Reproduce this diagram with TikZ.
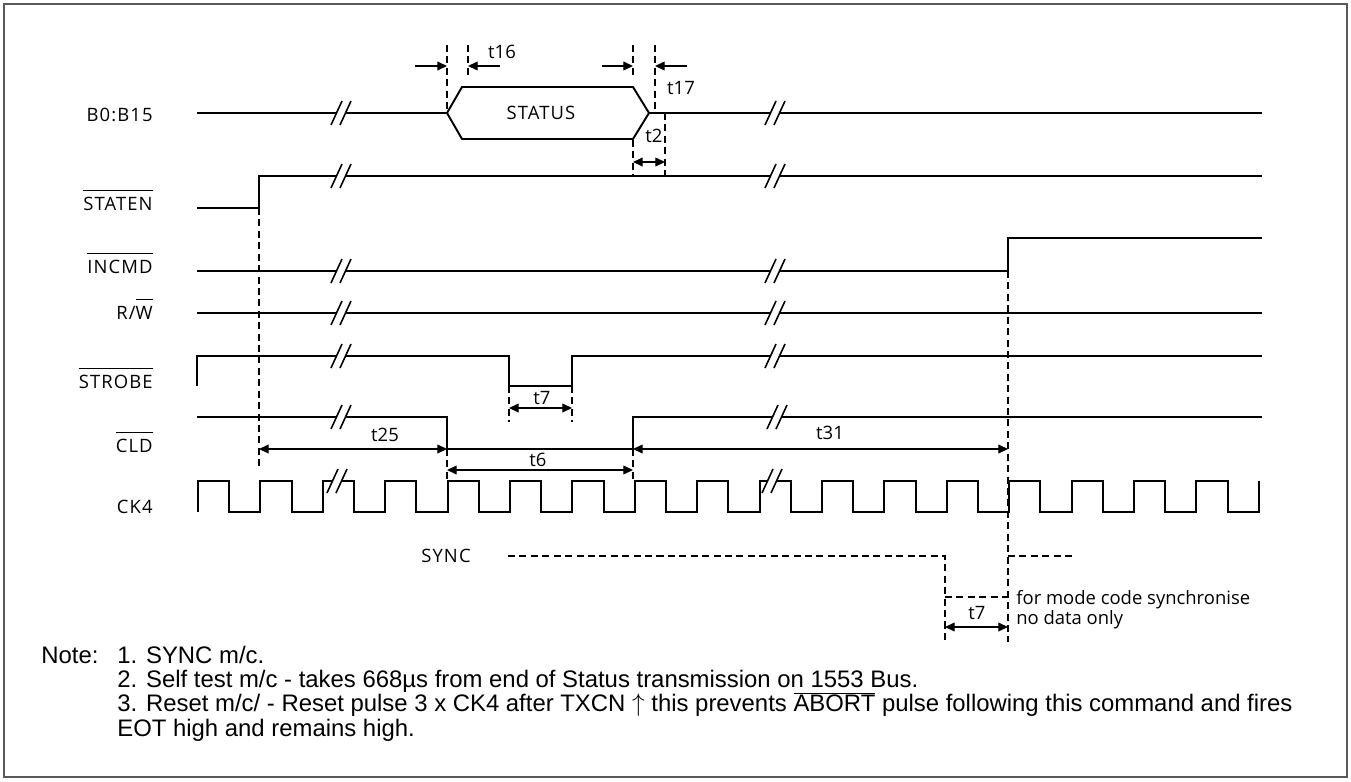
\documentclass[tikz,border=0pt]{standalone}
\usepackage{fontspec}
\setmainfont{Liberation Sans}
\newfontfamily\sigfont[LetterSpace=6]{Open Sans}
\newfontfamily\timfont{Open Sans}
\usetikzlibrary{arrows.meta}

% bar over a signal name, #1 = gap above the caps
\newcommand{\barsig}[2][3.5pt]{\setbox0\hbox{#2}\rlap{\smash{\rule[\dimexpr\ht0+#1\relax]{\wd0}{0.5pt}}}\box0\relax}
% break mark on a trace
\newcommand{\brk}[2]{%
	\fill[white] (#1-10,#2+12) -- (#1+1,#2-12) -- (#1+10,#2-12) -- (#1-1,#2+12) -- cycle;
	\draw[line width=0.9pt] (#1-10,#2+12) -- (#1+1,#2-12) (#1-1,#2+12) -- (#1+10,#2-12);}

\tikzset{
	sig/.style = {line width=1.1pt},
	guide/.style = {line width=0.8pt, dash pattern=on 4pt off 2.5pt},
	dim/.style = {line width=0.7pt, {Triangle[length=5.5pt,width=5pt]}-{Triangle[length=5.5pt,width=5pt]}},
	dimr/.style = {line width=0.7pt, -{Triangle[length=5.5pt,width=5pt]}},
	lbl/.style = {font=\sigfont\fontsize{10.5}{12}\selectfont, inner sep=0pt},
	tlbl/.style = {font=\timfont\fontsize{10.5}{12}\selectfont, inner sep=0pt},
	signame/.style = {lbl, anchor=base east},
	note/.style = {font=\fontsize{13.6}{13.7}\selectfont, inner sep=0pt, anchor=base west, align=left}
}

\begin{document}
\begin{tikzpicture}[x=0.02cm, y=-0.02cm]
		\useasboundingbox (0,0) rectangle (1351,781);
		\draw[gray!70!black, line width=0.8pt] (4,4) rectangle (1347,777);

		% signal names
		\node[signame] (nbus) at (153,121) {B0:B15};
		\node[signame] (nstaten) at (153,210) {\barsig{STATEN}};
		\node[signame] (nincmd) at (153,273) {\barsig{INCMD}};
		\node[signame] (nrw) at (153,319) {R/\barsig{W}};
		\node[signame] (nstrobe) at (153,388) {\barsig{STROBE}};
		\node[signame] (ncld) at (153,452) {\barsig{CLD}};
		\node[signame] (nck) at (153,513) {CK4};

		% traces
		\draw[sig] (197,113) -- (447,113);
		\draw[sig] (649,113) -- (1262,113);
		\draw[sig] (447,113) -- (462,87) -- (633,87) -- (649,113)
			-- (633,139) -- (462,139) -- cycle;
		\node[lbl] (status) at (541,113) {STATUS};

		\draw[sig] (197,208) -- (259,208) -- (259,176) -- (1262,176);
		\draw[sig] (197,271) -- (1008,271) -- (1008,238) -- (1262,238);
		\draw[sig] (197,313) -- (1262,313);
		\draw[sig] (197,386) -- (197,356) -- (509,356) -- (509,386)
			-- (572,386) -- (572,356) -- (1262,356);
		\draw[sig] (197,417) -- (447,417) -- (447,449) -- (633,449)
			-- (633,417) -- (1262,417);
		\draw[sig] (198,512) \foreach \k in {0,...,16}
			{-- ++(0,-31) -- ++(31.2,0) -- ++(0,31) -- ++(31.2,0)} -- ++(0,-31);

		\foreach \y in {113,176,271,313,356}
			{\brk{341}{\y} \brk{775}{\y}}
		\brk{341}{417} \brk{777}{417}
		\brk{337}{481} \brk{772}{481}

		% guides
		\draw[guide] (259,208) -- (259,470);
		\draw[guide] (447,45) -- (447,113);
		\draw[guide] (468,45) -- (468,77);
		\draw[guide] (633,45) -- (633,77);
		\draw[guide] (655,45) -- (655,113);
		\draw[guide] (633,140) -- (633,175);
		\draw[guide] (665,113) -- (665,175);
		\draw[guide] (509,386) -- (509,422);
		\draw[guide] (572,386) -- (572,422);
		\draw[guide] (447,449) -- (447,482);
		\draw[guide] (633,449) -- (633,482);
		\draw[guide] (1008,271) -- (1008,642);

		% timings
		\draw[dimr] (415,66) -- (447,66);
		\draw[dimr] (500,66) -- (468,66);
		\node[tlbl] (t16) at (502,52) {t16};
		\draw[dimr] (602,66) -- (633,66);
		\draw[dimr] (687,66) -- (655,66);
		\node[tlbl] (t17) at (681,88) {t17};
		\draw[dim] (633,162) -- (665,162);
		\node[tlbl] (t2) at (654,136) {t2};
		\draw[dim] (509,408) -- (572,408);
		\node[tlbl] (t7) at (542,398) {t7};
		\draw[dim] (259,449) -- (447,449);
		\node[tlbl] (t25) at (385,435) {t25};
		\draw[dim] (447,470) -- (633,470);
		\node[tlbl] (t6) at (538,460) {t6};
		\draw[dim] (633,449) -- (1008,449);
		\node[tlbl] (t31) at (830,433) {t31};

		% sync
		\node[lbl] (sync) at (446,556) {SYNC};
		\draw[guide] (508,556) -- (945,556) -- (945,641);
		\draw[guide] (945,597) -- (1008,597);
		\draw[guide] (1008,556) -- (1072,556);
		\draw[dim] (945,627) -- (1008,627);
		\node[tlbl] (t7s) at (977,613) {t7};
		\node[tlbl, anchor=west] (mode) at (1016,600) {for mode code synchronise};
		\node[tlbl, anchor=west] (nodata) at (1016,620) {no data only};

		% notes
		\node[note] (notes) at (41,736) {\makebox[1.52cm][l]{Note:}1. SYNC m/c.\\
			\hspace*{1.52cm}2. Self test m/c - takes 668µs from end of Status transmission on 1553 Bus.\\
			\hspace*{1.52cm}3. Reset m/c/ - Reset pulse 3 x CK4 after TXCN \smash{$\uparrow$} this prevents \barsig[1pt]{ABORT} pulse following this command and fires\\
			\hspace*{1.52cm}EOT high and remains high.};
\end{tikzpicture}
\end{document}
